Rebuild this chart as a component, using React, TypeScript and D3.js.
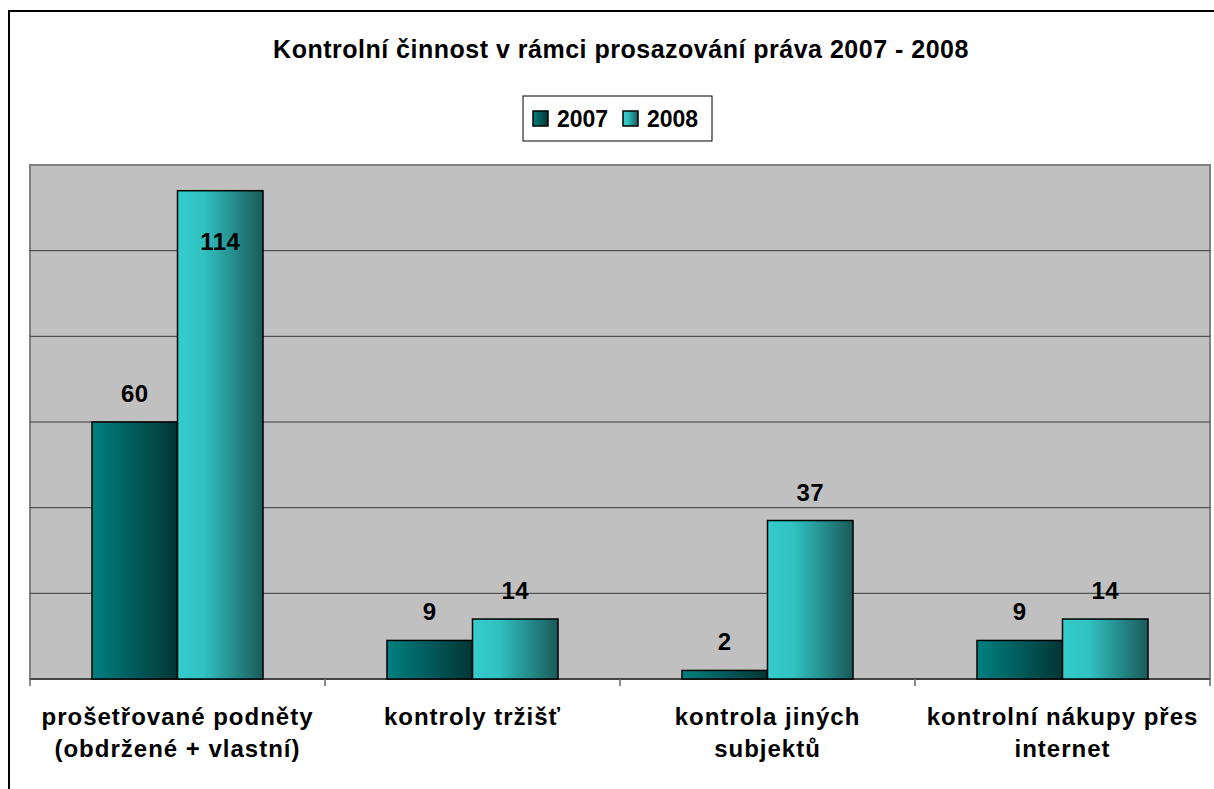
import * as d3 from 'd3';
import { useEffect, useRef } from 'react';

const categories = [
  ['prošetřované podněty', '(obdržené + vlastní)'],
  ['kontroly tržišť'],
  ['kontrola jiných', 'subjektů'],
  ['kontrolní nákupy přes', 'internet'],
];
const seriesNames = ['2007', '2008'];
const values2007 = [60, 9, 2, 9];
const values2008 = [114, 14, 37, 14];
const yTicks = [0, 20, 40, 60, 80, 100, 120];
const title = 'Kontrolní činnost v rámci prosazování práva 2007 - 2008';

const FONT = '"Liberation Sans", Arial, sans-serif';

export default function App() {
  const ref = useRef<SVGSVGElement | null>(null);

  useEffect(() => {
    if (!ref.current) return;
    const svg = d3.select(ref.current);
    svg.selectAll('*').remove();

    const width = 1214;
    const height = 789;
    const plot = { left: 30, right: 1210, top: 165, bottom: 679 };

    const defs = svg.append('defs');
    const g07 = defs.append('linearGradient').attr('id', 'g2007').attr('x1', '0%').attr('x2', '100%');
    g07.append('stop').attr('offset', '0%').attr('stop-color', '#008080');
    g07.append('stop').attr('offset', '100%').attr('stop-color', '#023535');
    const g08 = defs.append('linearGradient').attr('id', 'g2008').attr('x1', '0%').attr('x2', '100%');
    g08.append('stop').attr('offset', '0%').attr('stop-color', '#33cccc');
    g08.append('stop').attr('offset', '30%').attr('stop-color', '#31c2c2');
    g08.append('stop').attr('offset', '100%').attr('stop-color', '#1a5a5a');
    const fills: Record<string, string> = { '2007': 'url(#g2007)', '2008': 'url(#g2008)' };

    // chart frame
    svg.append('rect').attr('width', width).attr('height', height).attr('fill', '#fff');
    svg.append('rect')
      .attr('x', 9).attr('y', 11).attr('width', width + 20).attr('height', height + 20)
      .attr('fill', 'none').attr('stroke', '#000').attr('stroke-width', 2);

    const x0 = d3.scaleBand<number>()
      .domain(d3.range(categories.length))
      .range([plot.left, plot.right])
      .padding(0);
    const x1 = d3.scaleBand<string>()
      .domain(seriesNames)
      .range([0, x0.bandwidth()])
      .paddingInner(0)
      .paddingOuter(0.725);
    const y = d3.scaleLinear().domain([0, 120]).range([plot.bottom, plot.top]);

    // plot area
    svg.append('rect')
      .attr('x', plot.left).attr('y', plot.top)
      .attr('width', plot.right - plot.left).attr('height', plot.bottom - plot.top)
      .attr('fill', '#c0c0c0').attr('stroke', '#808080').attr('stroke-width', 2);

    svg.append('g')
      .selectAll('line')
      .data(yTicks.slice(1, -1))
      .enter()
      .append('line')
      .attr('x1', plot.left).attr('x2', plot.right)
      .attr('y1', (d) => y(d)).attr('y2', (d) => y(d))
      .attr('stroke', '#3a3a3a').attr('stroke-width', 1);

    // category axis
    svg.append('line')
      .attr('x1', plot.left).attr('x2', plot.right)
      .attr('y1', plot.bottom).attr('y2', plot.bottom)
      .attr('stroke', '#333').attr('stroke-width', 1.5);
    svg.append('g')
      .selectAll('line')
      .data(d3.range(categories.length + 1))
      .enter()
      .append('line')
      .attr('x1', (i) => plot.left + i * x0.bandwidth())
      .attr('x2', (i) => plot.left + i * x0.bandwidth())
      .attr('y1', plot.bottom).attr('y2', plot.bottom + 7)
      .attr('stroke', '#666').attr('stroke-width', 1.5);

    const rows = categories.map((c, i) => ({
      i,
      values: [
        { s: '2007', v: values2007[i] },
        { s: '2008', v: values2008[i] },
      ],
    }));

    const groups = svg.append('g')
      .selectAll('g')
      .data(rows)
      .enter()
      .append('g')
      .attr('transform', (d) => `translate(${x0(d.i)},0)`);

    groups.selectAll('rect')
      .data((d) => d.values)
      .enter()
      .append('rect')
      .attr('x', (d) => x1(d.s) || 0)
      .attr('y', (d) => y(d.v))
      .attr('width', x1.bandwidth())
      .attr('height', (d) => y(0) - y(d.v))
      .attr('fill', (d) => fills[d.s])
      .attr('stroke', '#000')
      .attr('stroke-width', 1.5);

    // value labels (tall bar gets its label inside)
    groups.selectAll('text')
      .data((d) => d.values)
      .enter()
      .append('text')
      .attr('x', (d) => (x1(d.s) || 0) + x1.bandwidth() / 2)
      .attr('y', (d) => Math.max(y(d.v) - 20, plot.top + 85))
      .attr('text-anchor', 'middle')
      .style('font-family', FONT)
      .style('font-weight', 'bold')
      .style('font-size', '24px')
      .style('letter-spacing', '0.5px')
      .text((d) => d.v);

    // category labels
    const catLabels = svg.append('g')
      .selectAll('text')
      .data(categories)
      .enter()
      .append('text')
      .attr('x', (d, i) => (x0(i) || 0) + x0.bandwidth() / 2)
      .attr('y', 725)
      .attr('text-anchor', 'middle')
      .style('font-family', FONT)
      .style('font-weight', 'bold')
      .style('font-size', '24px')
      .style('letter-spacing', '1px');
    catLabels.selectAll('tspan')
      .data((d) => d)
      .enter()
      .append('tspan')
      .attr('x', function () {
        return d3.select((this as SVGTSpanElement).parentNode as SVGTextElement).attr('x');
      })
      .attr('dy', (d, i) => (i === 0 ? 0 : 32))
      .text((d) => d);

    // title
    svg.append('text')
      .attr('x', 621).attr('y', 58)
      .attr('text-anchor', 'middle')
      .style('font-family', FONT)
      .style('font-weight', 'bold')
      .style('font-size', '25px')
      .style('letter-spacing', '0.5px')
      .text(title);

    // legend
    const legend = svg.append('g');
    legend.append('rect')
      .attr('x', 523).attr('y', 96).attr('width', 189).attr('height', 45)
      .attr('fill', '#fff').attr('stroke', '#000').attr('stroke-width', 1);
    const itemX = [533, 623];
    seriesNames.forEach((s, i) => {
      legend.append('rect')
        .attr('x', itemX[i]).attr('y', 111).attr('width', 15).attr('height', 15)
        .attr('fill', fills[s]).attr('stroke', '#000').attr('stroke-width', 1.5);
      legend.append('text')
        .attr('x', itemX[i] + 24).attr('y', 127)
        .style('font-family', FONT)
        .style('font-weight', 'bold')
        .style('font-size', '23px')
        .text(s);
    });
  }, []);

  return (
    <svg
      ref={ref}
      width={1214}
      height={789}
      style={{ position: 'absolute', left: 0, top: 0 }}
    />
  );
}
